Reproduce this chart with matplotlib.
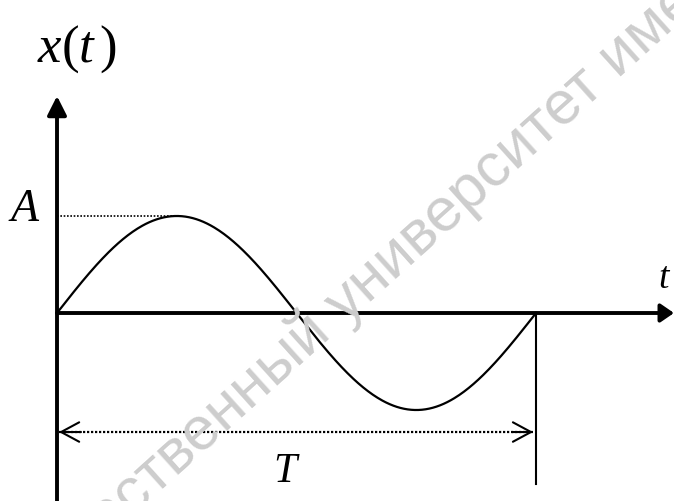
import numpy as np
import matplotlib
matplotlib.use("Agg")
import matplotlib.pyplot as plt
from matplotlib.patches import FancyArrowPatch

plt.rcParams["mathtext.fontset"] = "custom"
plt.rcParams["mathtext.rm"] = "Liberation Serif"
plt.rcParams["mathtext.it"] = "Liberation Serif:italic"

# signal parameters (one period of a harmonic signal)
T = 1.0
A = 1.0
t = np.linspace(0, T, 400)
x = A * np.sin(2 * np.pi * t / T)

watermark = "государственный университет имени"

fig = plt.figure(figsize=(6.74, 5.02), dpi=100)
ax = fig.add_axes([0, 0, 1, 1])
ax.set_xlim(-0.119, 1.288)
ax.set_ylim(-1.938, 3.237)
ax.axis("off")

# watermark
fig.text(0.519, 0.404, watermark, rotation=42, rotation_mode="anchor",
         ha="center", va="center", fontsize=44, family="Liberation Sans",
         color="#cdcdcd", zorder=0)

# axes with arrows
ax.add_patch(FancyArrowPatch((0, -1.938), (0, 2.237), arrowstyle="-|>,head_length=11.5,head_width=5.8",
                             mutation_scale=1, lw=2.8, color="black", shrinkA=0, shrinkB=0))
ax.add_patch(FancyArrowPatch((0, 0), (1.288, 0), arrowstyle="-|>,head_length=8,head_width=5.5",
                             mutation_scale=1, lw=2.8, color="black", shrinkA=0, shrinkB=0))

# the signal
ax.plot(t, x, color="black", lw=1.6)

# amplitude guide
ax.plot([0, T / 4], [A, A], color="black", lw=1.2, linestyle=(0, (1, 1)))

# period marker
ax.plot([T, T], [0, -1.76], color="black", lw=1.5)
y_T = -1.227
ax.plot([0.004, T - 0.006], [y_T, y_T], color="black", lw=1.6, linestyle=(0, (1, 0.8)))
for tip, tail in [(0.004, 0.05), (T - 0.006, T - 0.05)]:
    ax.add_patch(FancyArrowPatch((tail, y_T), (tip, y_T), arrowstyle="->,head_length=13,head_width=7",
                                 mutation_scale=1, lw=1.5, color="black", shrinkA=0, shrinkB=0))

# labels
ax.text(-0.042, 2.60, r"$x(t\,)$", fontsize=38, ha="left", va="baseline")
ax.text(-0.067, 0.96, "A", fontsize=33, family="Liberation Serif", style="italic",
        ha="center", va="baseline")
ax.text(1.255, 0.27, "t", fontsize=27, family="Liberation Serif", style="italic",
        ha="left", va="baseline")
ax.text(0.476, -1.73, "T", fontsize=30, family="Liberation Serif", style="italic",
        ha="center", va="baseline")

fig.savefig("out.png", dpi=100)
